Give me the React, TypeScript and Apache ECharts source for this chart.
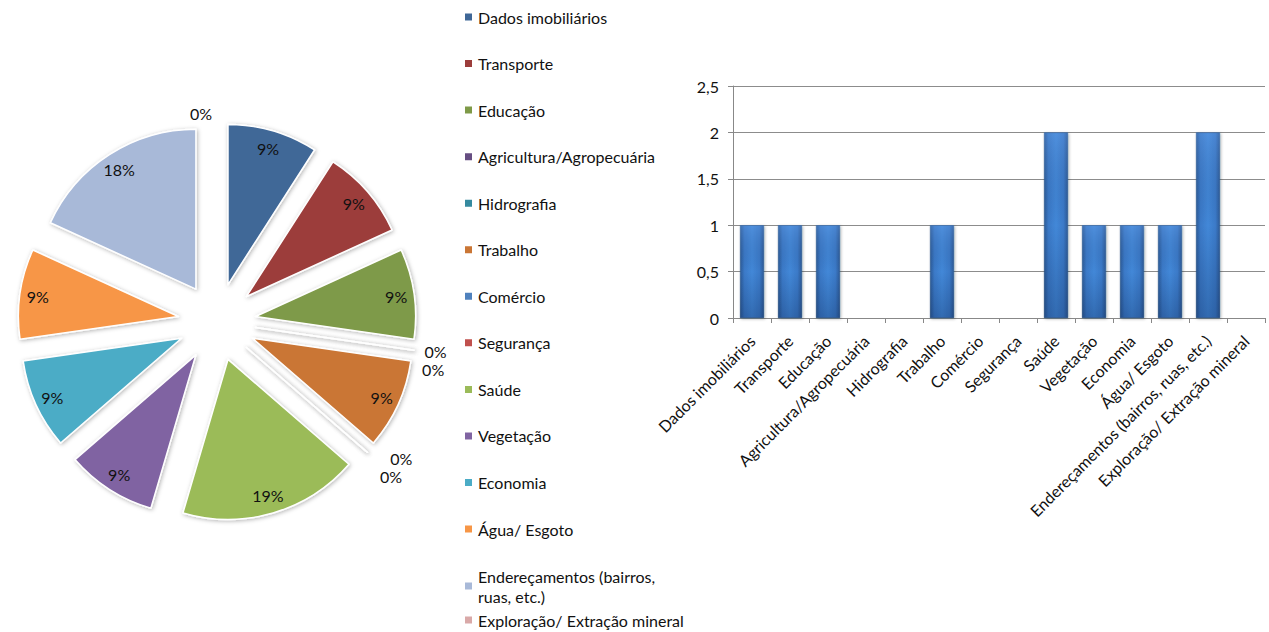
import React, { useEffect, useRef } from "react";
import * as echarts from "echarts";

const categories = [
  "Dados imobiliários",
  "Transporte",
  "Educação",
  "Agricultura/Agropecuária",
  "Hidrografia",
  "Trabalho",
  "Comércio",
  "Segurança",
  "Saúde",
  "Vegetação",
  "Economia",
  "Água/ Esgoto",
  "Endereçamentos (bairros, ruas, etc.)",
  "Exploração/ Extração mineral",
];

const values = [1, 1, 1, 0, 0, 1, 0, 0, 2, 1, 1, 1, 2, 0];

const sliceColors = [
  "#3F6797",
  "#9C3D3B",
  "#7E9A48",
  "#664E82",
  "#358A9F",
  "#CA7635",
  "#4F81BD",
  "#C0504D",
  "#9BBB59",
  "#8064A2",
  "#4BACC6",
  "#F79646",
  "#A8B9D8",
  "#D9A9A8",
];

const yTicks = [0, 0.5, 1, 1.5, 2, 2.5];

const FONT = "Lato, 'Noto Sans', sans-serif";

export default function App() {
  const ref = useRef<HTMLDivElement>(null);

  useEffect(() => {
    if (!ref.current) return;
    const chart = echarts.init(ref.current, null, { renderer: "svg" });

    const pieData = categories.map((name, i) => ({
      name,
      value: values[i],
      selected: true,
      itemStyle: { color: sliceColors[i] },
    }));

    const labelData = categories.map((name, i) => ({
      name,
      value: values[i],
      selected: true,
      label:
        values[i] === 0
          ? { position: "outside" as const }
          : { position: "inside" as const },
      labelLine: { show: false },
    }));

    const option: any = {
      animation: false,
      backgroundColor: "#ffffff",
      textStyle: { fontFamily: FONT },
      legend: [
        {
          orient: "vertical",
          left: 463,
          top: 7,
          padding: 0,
          itemWidth: 9,
          itemHeight: 9,
          itemGap: 26.55,
          icon: "rect",
          selectedMode: false,
          data: categories.slice(0, 12),
          textStyle: {
            fontFamily: FONT,
            fontSize: 16,
            lineHeight: 20,
            color: "#111",
          },
        },
        {
          orient: "vertical",
          left: 463,
          top: 566,
          padding: 0,
          itemWidth: 9,
          itemHeight: 9,
          itemGap: 4,
          icon: "rect",
          selectedMode: false,
          data: categories.slice(12),
          formatter: (name: string) =>
            name === categories[12] ? "Endereçamentos (bairros,\nruas, etc.)" : name,
          textStyle: {
            fontFamily: FONT,
            fontSize: 16,
            lineHeight: 20,
            color: "#111",
          },
        },
      ],
      grid: {
        left: 733,
        right: 4,
        top: 86,
        bottom: 314,
        containLabel: false,
      },
      xAxis: {
        type: "category",
        data: categories,
        boundaryGap: true,
        axisLine: { show: true, lineStyle: { color: "#888", width: 1 } },
        axisTick: {
          show: true,
          interval: 0,
          length: 5,
          lineStyle: { color: "#888" },
        },
        axisLabel: {
          interval: 0,
          rotate: 45,
          fontFamily: FONT,
          fontSize: 16,
          color: "#111",
          margin: 20,
        },
        splitLine: { show: false },
      },
      yAxis: {
        type: "value",
        min: 0,
        max: 2.5,
        interval: 0.5,
        axisLine: { show: true, lineStyle: { color: "#888", width: 1 } },
        axisTick: { show: true, length: 5, lineStyle: { color: "#888" } },
        axisLabel: {
          fontFamily: FONT,
          fontSize: 16,
          color: "#111",
          margin: 14,
          formatter: (v: number) =>
            yTicks.includes(v) ? String(v).replace(".", ",") : "",
        },
        splitLine: { show: true, lineStyle: { color: "#8c8c8c", width: 1 } },
      },
      series: [
        {
          type: "pie",
          name: "pie",
          center: [217, 322],
          radius: [0, 160],
          startAngle: 90,
          clockwise: true,
          selectedMode: "multiple",
          selectedOffset: 39,
          avoidLabelOverlap: false,
          label: { show: false },
          labelLine: { show: false },
          emphasis: { disabled: true },
          itemStyle: {
            borderColor: "#ffffff",
            borderWidth: 1.5,
            shadowBlur: 4,
            shadowOffsetX: 1,
            shadowOffsetY: 1,
            shadowColor: "rgba(0,0,0,0.3)",
          },
          data: pieData,
        },
        {
          type: "pie",
          name: "pieLabels",
          center: [217, 322],
          radius: [118, 160],
          startAngle: 90,
          clockwise: true,
          selectedMode: "multiple",
          selectedOffset: 39,
          percentPrecision: 0,
          avoidLabelOverlap: true,
          silent: true,
          emphasis: { disabled: true },
          itemStyle: { color: "rgba(0,0,0,0)" },
          label: {
            show: true,
            formatter: "{d}%",
            fontFamily: FONT,
            fontSize: 16,
            color: "#111",
          },
          labelLine: { show: false, length: 10, length2: 0 },
          data: labelData,
        },
        {
          type: "bar",
          name: "bars",
          data: values,
          barWidth: 24,
          itemStyle: {
            borderColor: "#2b5a94",
            borderWidth: 0.6,
            color: new echarts.graphic.LinearGradient(0, 0, 1, 0, [
              { offset: 0, color: "#2c5c98" },
              { offset: 0.18, color: "#3b7ac8" },
              { offset: 0.5, color: "#4388d8" },
              { offset: 0.82, color: "#3b7ac8" },
              { offset: 1, color: "#2c5c98" },
            ]),
            shadowBlur: 3,
            shadowOffsetX: 1,
            shadowOffsetY: 1,
            shadowColor: "rgba(0,0,0,0.3)",
          },
          emphasis: { disabled: true },
        },
        {
          type: "bar",
          name: "barShade",
          data: values,
          barWidth: 24,
          barGap: "-100%",
          silent: true,
          itemStyle: {
            color: new echarts.graphic.LinearGradient(0, 0, 0, 1, [
              { offset: 0, color: "rgba(120,170,240,0.25)" },
              { offset: 0.5, color: "rgba(0,20,60,0.0)" },
              { offset: 1, color: "rgba(0,20,60,0.25)" },
            ]),
          },
          emphasis: { disabled: true },
        },
      ],
    };

    chart.setOption(option);
    return () => chart.dispose();
  }, []);

  return (
    <div
      ref={ref}
      style={{
        position: "fixed",
        left: 0,
        top: 0,
        width: 1269,
        height: 632,
        background: "#fff",
      }}
    />
  );
}
